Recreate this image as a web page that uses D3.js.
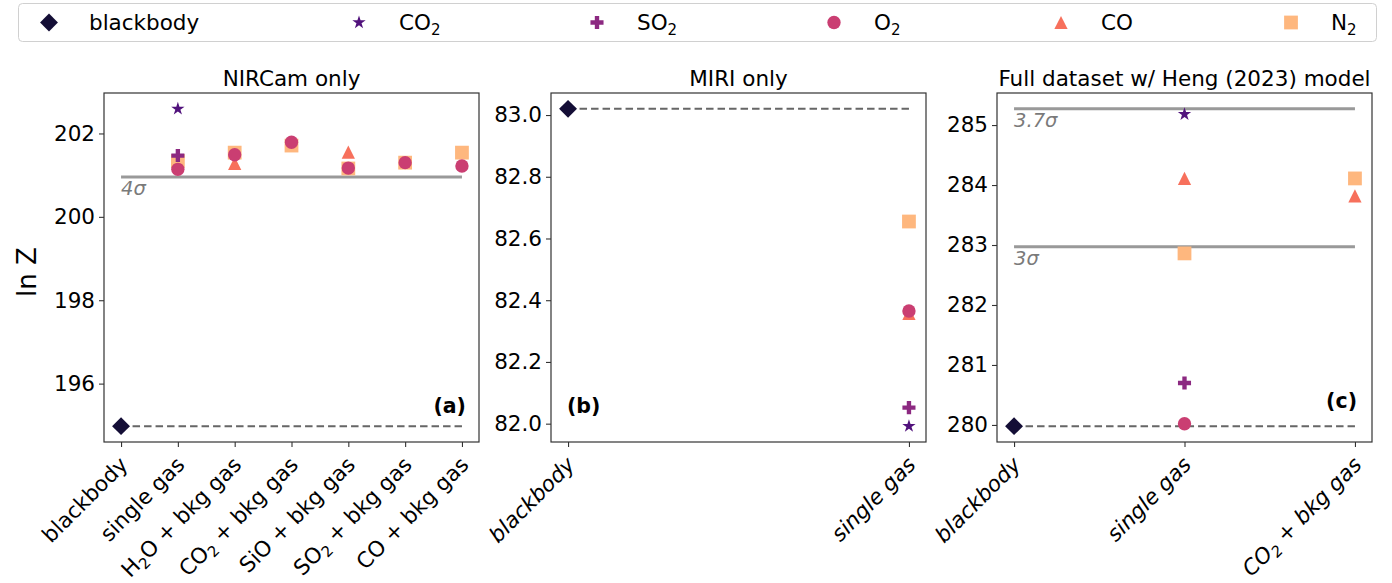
<!DOCTYPE html>
<html>
<head>
<meta charset="utf-8">
<script src="https://cdn.jsdelivr.net/npm/d3@7"></script>
<style>
  body { margin: 0; background: #fff; }
  svg { font-family: "DejaVu Sans", sans-serif; }
</style>
</head>
<body>
<script>
"use strict";
(function () {
// ---- data ----
// gas order matches legend: blackbody, CO2, SO2, O2, CO, N2
const legendLabels = ["blackbody", "CO_2", "SO_2", "O_2", "CO", "N_2"];

// (a) NIRCam only
const catsA = ["blackbody", "single gas", "H_2O + bkg gas", "CO_2 + bkg gas", "SiO + bkg gas", "SO_2 + bkg gas", "CO + bkg gas"];
const bbA  = [194.98, null, null, null, null, null, null];
const co2A = [null, 202.59, null, null, null, null, null];
const so2A = [null, 201.47, null, null, null, null, null];
const o2A  = [null, 201.14, 201.49, 201.79, 201.17, 201.30, 201.22];
const coA  = [null, null, 201.28, null, 201.55, null, null];
const n2A  = [null, 201.34, 201.54, 201.71, 201.16, 201.30, 201.54];
const sigmaA = [{ label: "4σ", value: 200.955 }];
const yTicksA = [196, 198, 200, 202];

// (b) MIRI only
const catsB = ["blackbody", "single gas"];
const bbB  = [83.02, null];
const co2B = [null, 81.992];
const so2B = [null, 82.052];
const o2B  = [null, 82.365];
const coB  = [null, 82.357];
const n2B  = [null, 82.655];
const sigmaB = [];
const yTicksB = [82.0, 82.2, 82.4, 82.6, 82.8, 83.0];

// (c) Full dataset w/ Heng (2023) model
const catsC = ["blackbody", "single gas", "CO_2 + bkg gas"];
const bbC  = [279.98, null, null];
const co2C = [null, 285.18, null];
const so2C = [null, 280.70, null];
const o2C  = [null, 280.02, null];
const coC  = [null, 284.11, 283.82];
const n2C  = [null, 282.86, 284.11];
const sigmaC = [{ label: "3.7σ", value: 285.27 }, { label: "3σ", value: 282.97 }];
const yTicksC = [280, 281, 282, 283, 284, 285];

// ---- styles ----
const colors = [0.1, 0.25, 0.4, 0.55, 0.7, 0.85].map(t => d3.interpolateMagma(t));
// matplotlib-like "^": as wide as it is tall
const symbolTriUp = {
  draw(ctx, size) {
    const r = Math.sqrt(size) / 2;
    ctx.moveTo(0, -r); ctx.lineTo(r, r); ctx.lineTo(-r, r); ctx.closePath();
  }
};
const shapes = [
  d3.symbol().type(d3.symbolSquare).size(160),   // rotated -> diamond
  d3.symbol().type(d3.symbolStar).size(55),
  d3.symbol().type(d3.symbolCross).size(95),
  d3.symbol().type(d3.symbolCircle).size(140),
  d3.symbol().type(symbolTriUp).size(175),
  d3.symbol().type(d3.symbolSquare).size(190)
];
function markerTransform(i, x, y) {
  return "translate(" + x + "," + y + ")" + (i === 0 ? " rotate(45)" : "");
}

const W = 1392, H = 583;
const plotTop = 93, plotBottom = 442, panelW = 375;
const FS = 21.5;

const svg = d3.select("body").append("svg")
  .attr("width", W).attr("height", H);

// writes "CO_2" style strings as text with subscripts
function subText(sel, str, fs) {
  const parts = str.split(/_(\d)/);
  const shift = fs * 0.22;
  let lowered = false;
  parts.forEach((p, k) => {
    if (p === "") return;
    const ts = sel.append("tspan").text(p);
    if (k % 2 === 1) {
      ts.attr("font-size", fs * 0.7).attr("dy", shift);
      lowered = true;
    } else if (lowered) {
      ts.attr("dy", -shift);
      lowered = false;
    }
  });
}

// ---- legend ----
const legendX = [49, 359, 597, 834, 1061, 1291];
svg.append("rect")
  .attr("x", 18.5).attr("y", 3.5).attr("width", 1358).attr("height", 38)
  .attr("rx", 4).attr("fill", "#fff").attr("stroke", "#d0d0d0").attr("stroke-width", 1);
legendLabels.forEach((lab, i) => {
  svg.append("path").attr("d", shapes[i]())
    .attr("transform", markerTransform(i, legendX[i], 22.5))
    .attr("fill", colors[i]);
  const t = svg.append("text").attr("x", legendX[i] + 40).attr("y", 30)
    .attr("font-size", FS).attr("fill", "#000");
  subText(t, lab, FS);
});

// ---- panels ----
const panels = [
  { left: 104, title: "NIRCam only", cats: catsA, series: [bbA, co2A, so2A, o2A, coA, n2A], sigma: sigmaA, ticks: yTicksA, fmt: d3.format("d"), italic: false, tag: "(a)", tagX: 466, tagY: 413, tagAnchor: "end" },
  { left: 551, title: "MIRI only", cats: catsB, series: [bbB, co2B, so2B, o2B, coB, n2B], sigma: sigmaB, ticks: yTicksB, fmt: d3.format(".1f"), italic: true, tag: "(b)", tagX: 567, tagY: 413, tagAnchor: "start" },
  { left: 997, title: "Full dataset w/ Heng (2023) model", cats: catsC, series: [bbC, co2C, so2C, o2C, coC, n2C], sigma: sigmaC, ticks: yTicksC, fmt: d3.format("d"), italic: true, tag: "(c)", tagX: 1357, tagY: 408, tagAnchor: "end" }
];

panels.forEach(p => {
  const n = p.cats.length;
  const pad = (n - 1) * 0.05;
  const x = d3.scaleLinear().domain([-pad, n - 1 + pad]).range([p.left, p.left + panelW]);

  const vals = [];
  p.series.forEach(s => s.forEach(v => { if (v != null) vals.push(v); }));
  p.sigma.forEach(s => vals.push(s.value));
  const ext = d3.extent(vals);
  const ypad = (ext[1] - ext[0]) * 0.05;
  const y = d3.scaleLinear().domain([ext[0] - ypad, ext[1] + ypad]).range([plotBottom, plotTop]);

  const g = svg.append("g");

  // title
  g.append("text").attr("x", p.left + panelW / 2).attr("y", 86)
    .attr("text-anchor", "middle").attr("font-size", FS).text(p.title);

  // axes
  const xAxis = g.append("g").attr("transform", "translate(0," + plotBottom + ")")
    .call(d3.axisBottom(x).tickValues(d3.range(n)).tickSize(5).tickFormat(""));
  const yAxis = g.append("g").attr("transform", "translate(" + p.left + ",0)")
    .call(d3.axisLeft(y).tickValues(p.ticks).tickSize(5).tickPadding(4).tickFormat(p.fmt));
  [xAxis, yAxis].forEach(a => {
    a.select(".domain").remove();
    a.selectAll(".tick line").attr("stroke", "#333").attr("stroke-width", 1.1);
  });
  yAxis.selectAll(".tick text").attr("font-size", FS).attr("fill", "#000")
    .attr("font-family", "DejaVu Sans, sans-serif");

  // rotated category labels
  p.cats.forEach((c, i) => {
    const t = g.append("text")
      .attr("transform", "translate(" + (x(i) + 8) + "," + (plotBottom + 24) + ") rotate(-45)")
      .attr("text-anchor", "end")
      .attr("font-size", FS).attr("font-style", p.italic ? "italic" : "normal");
    subText(t, c, FS);
  });

  // frame
  g.append("rect").attr("x", p.left).attr("y", plotTop)
    .attr("width", panelW).attr("height", plotBottom - plotTop)
    .attr("fill", "none").attr("stroke", "#333").attr("stroke-width", 1.2);

  // significance lines
  p.sigma.forEach(s => {
    g.append("line")
      .attr("x1", x(0)).attr("x2", x(n - 1))
      .attr("y1", y(s.value)).attr("y2", y(s.value))
      .attr("stroke", "#999").attr("stroke-width", 3);
    g.append("text").attr("x", x(0)).attr("y", y(s.value) + 18)
      .attr("font-size", 19.5).attr("font-style", "italic").attr("fill", "#7a7a7a")
      .text(s.label);
  });

  // blackbody reference (dashed)
  const bb = p.series[0][0];
  g.append("line")
    .attr("x1", x(0)).attr("x2", x(n - 1))
    .attr("y1", y(bb)).attr("y2", y(bb))
    .attr("stroke", "#666").attr("stroke-width", 2).attr("stroke-dasharray", "7.5,4");

  // markers: blackbody first, then gases back to front
  const order = [0, 5, 4, 3, 2, 1];
  order.forEach(si => {
    p.series[si].forEach((v, i) => {
      if (v == null) return;
      g.append("path").attr("d", shapes[si]())
        .attr("transform", markerTransform(si, x(i), y(v)))
        .attr("fill", colors[si]);
    });
  });

  // panel tag
  g.append("text").attr("x", p.tagX).attr("y", p.tagY)
    .attr("text-anchor", p.tagAnchor).attr("font-size", 20.5).attr("font-weight", "bold")
    .text(p.tag);
});

// y label
svg.append("text").attr("transform", "translate(36,272) rotate(-90)")
  .attr("text-anchor", "middle").attr("font-size", 26).text("ln Z");
})();
</script>
</body>
</html>
